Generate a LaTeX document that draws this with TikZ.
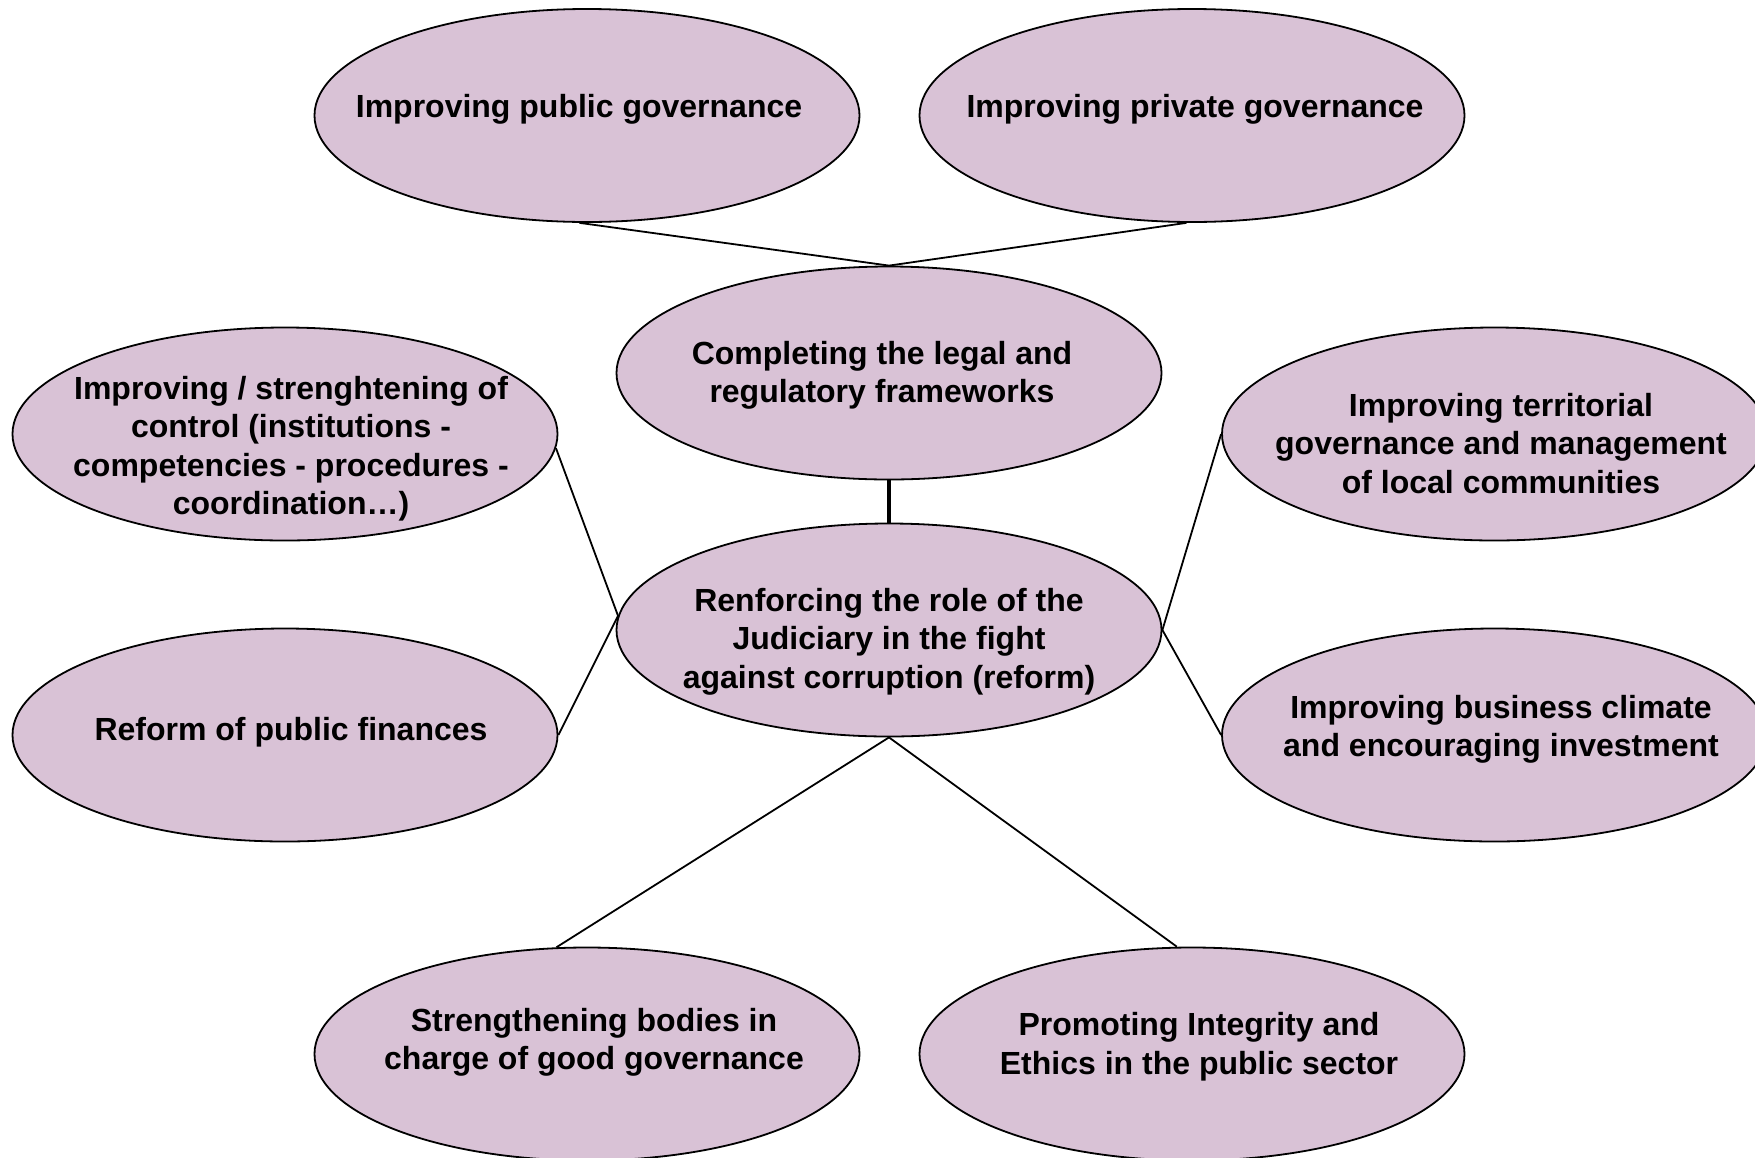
\documentclass[tikz,border=0pt]{standalone}
\usepackage{fontspec}
\setmainfont{Liberation Sans}
\usetikzlibrary{shapes.geometric}
\definecolor{lilac}{RGB}{217,194,214}
\tikzset{
  oval/.style={ellipse, draw=black, line width=1.8pt, fill=lilac, minimum width=545pt, minimum height=213pt, inner sep=0pt},
  txt/.style={align=center, font=\fontsize{32}{38.5}\selectfont\bfseries, inner sep=0pt},
  link/.style={draw=black, line width=1.8pt},
  thicklink/.style={draw=black, line width=4pt}
}
\begin{document}
\begin{tikzpicture}[x=1pt, y=-1pt]
\clip (0,0) rectangle (1755,1157);
\fill[white] (0,0) rectangle (1755,1157);
% ellipses
\node[oval] (pub) at (587,115.5) {};
\node[oval] (priv) at (1192,115.5) {};
\node[oval] (legal) at (889,373) {};
\node[oval] (ctrl) at (285,434) {};
\node[oval] (terr) at (1494.5,434) {};
\node[oval] (jud) at (889,630) {};
\node[oval] (fin) at (285,735) {};
\node[oval] (bus) at (1494.5,735) {};
\node[oval] (bod) at (587,1054) {};
\node[oval] (integ) at (1192,1054) {};
% connectors
\draw[link] (pub.-94) -- (legal.north);
\draw[link] (priv.-93) -- (legal.north);
\draw[thicklink] (legal.south) -- (jud.north);
\draw[link] (ctrl.-3) -- (jud.177);
\draw[link] (fin.east) -- (jud.177);
\draw[link] (jud.east) -- (terr.west);
\draw[link] (jud.east) -- (bus.west);
\draw[link] (jud.south) -- (bod.106);
\draw[link] (jud.south) -- (integ.98.5);
% texts
\node[txt] (pubT) at (579,109.5) {Improving public governance};
\node[txt] (privT) at (1195,109.5) {Improving private governance};
\node[txt] (legalT) at (882,375.5) {Completing the legal and\\regulatory frameworks};
\node[txt] (ctrlT) at (291,448.5) {Improving / strenghtening of\\control (institutions -\\competencies - procedures -\\coordination\dots)};
\node[txt] (terrT) at (1501,443.5) {Improving territorial\\governance and management\\of local communities};
\node[txt] (judT) at (889,641.5) {Renforcing the role of the\\Judiciary in the fight\\against corruption (reform)};
\node[txt] (finT) at (291,732.5) {Reform of public finances};
\node[txt] (busT) at (1501,729.5) {Improving business climate\\and encouraging investment};
\node[txt] (bodT) at (594,1042.5) {Strengthening bodies in\\charge of good governance};
\node[txt] (integT) at (1199,1046.5) {Promoting Integrity and\\Ethics in the public sector};
\end{tikzpicture}
\end{document}
